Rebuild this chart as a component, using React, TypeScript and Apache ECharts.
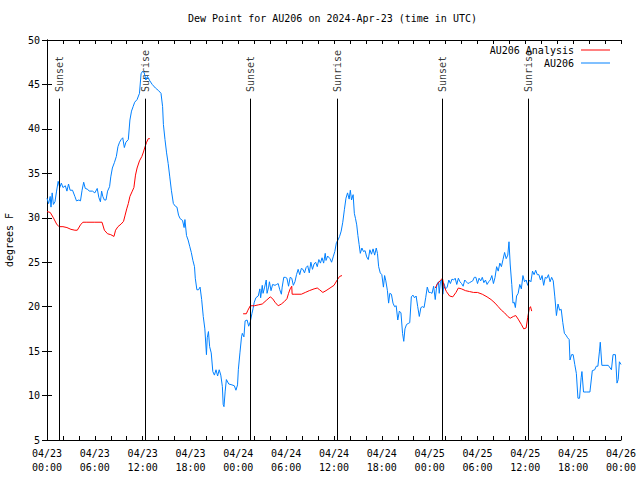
import React, { useEffect, useRef } from "react";
import * as echarts from "echarts";

// Hours since 2024-04-23 00:00 UTC
const xTickLabels = [
  "04/23\n00:00", "04/23\n06:00", "04/23\n12:00", "04/23\n18:00",
  "04/24\n00:00", "04/24\n06:00", "04/24\n12:00", "04/24\n18:00",
  "04/25\n00:00", "04/25\n06:00", "04/25\n12:00", "04/25\n18:00",
  "04/26\n00:00",
];

const sunEventHours = [1.55, 12.38, 25.5, 36.4, 49.6, 60.4];
const sunEventLabels = ["Sunset", "Sunrise", "Sunset", "Sunrise", "Sunset", "Sunrise"];

const au206: [number, number][] = [
  [0.0,32.2],[0.2,31.6],[0.4,32.4],[0.5,31.2],[0.65,32.8],[0.8,31.5],[1.0,31.8],[1.2,33.0],[1.4,34.1],[1.6,33.4],
  [1.8,33.9],[2.0,33.4],[2.3,33.6],[2.5,33.0],[2.7,33.8],[2.9,33.1],[3.2,33.1],[3.5,32.4],[3.7,31.9],[4.0,32.0],
  [4.2,31.9],[4.4,33.1],[4.6,34.0],[4.8,33.3],[5.1,33.2],[5.3,33.0],[5.7,33.0],[6.0,32.8],[6.3,33.3],[6.5,32.3],
  [6.7,31.8],[6.85,33.0],[7.0,32.4],[7.2,32.0],[7.4,32.0],[7.6,33.0],[7.85,33.5],[8.0,34.6],[8.2,35.6],[8.45,36.2],
  [8.7,36.9],[8.9,38.0],[9.1,38.5],[9.3,38.8],[9.5,39.0],[9.7,37.9],[9.9,38.5],[10.2,38.8],[10.4,41.0],[10.6,42.0],
  [10.8,42.5],[11.0,43.0],[11.3,43.3],[11.6,44.0],[11.8,46.2],[12.0,46.5],[12.2,46.3],[12.4,45.5],[12.6,45.9],[12.9,45.4],
  [13.2,45.0],[13.6,44.6],[14.0,44.3],[14.3,44.0],[14.5,42.5],[14.6,40.5],[14.8,38.8],[15.0,37.3],[15.2,36.1],[15.4,34.6],
  [15.6,33.1],[15.85,31.6],[16.1,31.3],[16.3,31.2],[16.5,30.3],[16.7,29.9],[17.0,29.7],[17.2,28.9],[17.3,29.8],[17.5,28.0],
  [17.7,27.5],[17.9,26.8],[18.1,26.1],[18.3,25.2],[18.5,24.5],[18.6,23.2],[18.8,21.9],[19.0,21.9],[19.2,22.2],[19.4,20.8],
  [19.6,18.9],[19.8,17.5],[20.0,14.6],[20.1,16.5],[20.25,17.2],[20.4,15.5],[20.6,14.8],[20.8,12.7],[21.0,12.3],[21.2,12.9],
  [21.4,12.2],[21.6,12.9],[21.8,12.3],[22.0,11.0],[22.1,9.0],[22.2,8.75],[22.35,10.5],[22.5,11.8],[22.8,11.3],[23.2,11.2],
  [23.5,11.1],[23.7,10.6],[23.9,11.2],[24.0,12.9],[24.2,14.8],[24.4,16.6],[24.5,17.0],[24.7,16.6],[24.85,18.4],[25.1,18.5],
  [25.3,17.8],[25.5,18.3],[25.7,19.2],[25.85,19.8],[26.0,20.5],[26.2,21.0],[26.5,21.2],[26.7,22.0],[26.8,21.0],[27.0,22.4],
  [27.1,21.5],[27.3,22.2],[27.5,23.0],[27.6,21.5],[27.8,22.2],[27.9,22.8],[28.1,21.8],[28.3,22.5],[28.6,22.4],[28.8,22.5],
  [29.0,22.6],[29.2,21.9],[29.4,21.4],[29.5,22.2],[29.7,23.3],[29.9,23.3],[30.1,23.2],[30.3,22.3],[30.5,23.3],[30.7,23.2],
  [30.9,22.4],[31.1,22.8],[31.3,23.6],[31.5,24.2],[31.7,23.6],[31.9,24.3],[32.1,24.2],[32.3,23.8],[32.5,24.4],[32.7,24.6],
  [32.9,23.8],[33.1,25.0],[33.3,24.2],[33.5,24.8],[33.7,25.0],[33.9,24.5],[34.1,25.3],[34.3,24.9],[34.5,25.5],[34.7,24.9],
  [34.9,26.0],[35.0,25.2],[35.2,25.7],[35.5,25.4],[35.7,25.0],[35.9,25.6],[36.1,26.2],[36.3,27.2],[36.5,27.5],[36.7,27.9],
  [36.9,28.5],[37.1,29.5],[37.3,30.9],[37.5,32.2],[37.7,32.8],[37.9,32.1],[38.05,33.1],[38.2,32.0],[38.4,32.6],[38.55,30.5],
  [38.7,29.9],[38.85,29.2],[39.0,28.0],[39.15,27.0],[39.3,26.0],[39.5,26.6],[39.7,26.2],[39.9,26.3],[40.1,25.6],[40.3,25.3],
  [40.5,26.4],[40.7,25.9],[40.9,26.5],[41.1,25.8],[41.3,26.6],[41.45,26.0],[41.6,24.5],[41.8,23.8],[42.0,23.6],[42.2,22.2],
  [42.35,23.5],[42.5,22.9],[42.7,21.8],[42.85,20.4],[43.0,21.5],[43.2,21.4],[43.4,20.4],[43.6,20.0],[43.8,20.1],[44.0,18.5],
  [44.2,19.5],[44.4,19.3],[44.6,17.0],[44.75,16.1],[44.9,17.5],[45.1,18.0],[45.3,18.1],[45.5,18.2],[45.7,21.1],[45.9,21.3],
  [46.1,21.0],[46.3,21.2],[46.5,20.0],[46.7,18.9],[46.9,19.9],[47.1,20.0],[47.3,19.9],[47.5,21.0],[47.7,22.2],[47.9,21.6],
  [48.1,21.6],[48.3,21.5],[48.5,22.3],[48.7,20.8],[48.9,22.5],[49.1,22.8],[49.2,21.5],[49.35,22.8],[49.5,23.0],[49.65,21.4],
  [49.8,22.6],[50.0,22.0],[50.2,22.2],[50.4,23.0],[50.6,22.6],[50.8,23.1],[51.0,23.0],[51.2,23.2],[51.4,22.5],[51.6,23.2],
  [51.8,22.8],[52.0,22.6],[52.2,22.3],[52.4,23.0],[52.6,22.8],[52.8,22.6],[53.0,22.7],[53.2,22.8],[53.4,22.9],[53.6,23.3],
  [53.8,23.3],[54.0,22.6],[54.2,23.2],[54.4,22.9],[54.6,23.3],[54.8,22.7],[55.0,23.0],[55.2,22.5],[55.4,22.8],[55.6,23.0],
  [55.8,23.5],[56.0,22.6],[56.2,23.3],[56.4,24.5],[56.6,24.0],[56.8,24.9],[57.0,24.5],[57.2,25.3],[57.4,26.1],[57.6,25.4],
  [57.8,25.8],[57.95,27.3],[58.1,24.8],[58.3,22.5],[58.45,20.4],[58.6,20.5],[58.75,19.9],[58.9,21.2],[59.1,21.5],[59.3,22.5],
  [59.5,22.0],[59.7,23.5],[59.9,22.8],[60.1,23.0],[60.3,22.4],[60.5,23.0],[60.7,22.8],[60.9,24.0],[61.1,23.6],[61.3,24.1],
  [61.5,23.6],[61.7,23.6],[61.9,23.0],[62.1,23.5],[62.3,22.4],[62.5,23.3],[62.7,23.2],[62.9,23.6],[63.1,22.8],[63.3,23.3],
  [63.5,22.9],[63.7,21.1],[63.9,19.0],[64.1,20.3],[64.3,19.6],[64.5,19.7],[64.7,18.2],[64.9,17.0],[65.1,16.8],[65.3,16.5],
  [65.5,16.3],[65.6,14.0],[65.8,14.6],[66.0,14.6],[66.2,13.5],[66.4,12.5],[66.6,9.7],[66.8,9.7],[67.0,12.0],[67.1,12.7],
  [67.3,10.4],[67.7,10.4],[68.1,10.4],[68.4,12.8],[68.7,12.9],[68.9,13.3],[69.1,13.3],[69.3,15.0],[69.4,16.0],[69.6,13.4],
  [70.0,13.4],[70.4,13.4],[70.8,12.9],[71.0,14.6],[71.3,14.6],[71.5,11.4],[71.65,11.8],[71.8,13.8],[72.0,13.5],
];

const analysis1: [number, number][] = [
  [0,30.7],[0.4,30.6],[0.8,30.0],[1.2,29.3],[1.5,29.0],[2.0,29.0],[2.5,28.9],[3.0,28.7],[3.5,28.6],[3.8,28.6],
  [4.2,29.2],[4.5,29.5],[5.0,29.5],[6.0,29.5],[6.9,29.5],[7.2,28.6],[7.6,28.2],[8.0,28.1],[8.4,27.9],[8.6,28.6],
  [8.9,29.0],[9.3,29.3],[9.6,29.6],[9.8,30.3],[10.0,31.0],[10.2,31.6],[10.4,32.4],[10.7,33.0],[10.9,33.4],[11.1,34.8],
  [11.3,35.6],[11.6,36.4],[11.9,36.9],[12.1,37.4],[12.3,38.0],[12.5,38.5],[12.7,38.9],[12.9,38.9],
];
const analysis2: [number, number][] = [
  [24.6,19.2],[25.0,19.2],[25.2,19.6],[25.5,20.1],[26.0,20.1],[26.5,20.2],[27.0,20.3],[27.5,20.7],[28.0,21.1],[28.3,20.9],
  [28.6,20.5],[29.0,20.1],[29.4,20.3],[29.8,20.6],[30.1,20.9],[30.3,21.5],[30.5,22.0],[30.7,22.3],[30.75,21.4],[31.0,21.4],
  [31.9,21.4],[32.4,21.6],[32.9,21.8],[33.5,22.0],[33.9,22.1],[34.2,21.9],[34.6,21.6],[35.0,21.8],[35.5,22.1],[36.0,22.4],
  [36.4,23.0],[36.7,23.4],[37.0,23.5],
];
const analysis3: [number, number][] = [
  [48.7,22.1],[49.0,22.6],[49.4,23.0],[49.6,23.2],[49.8,22.3],[50.1,21.7],[50.5,21.2],[50.9,21.1],[51.3,21.6],[51.6,22.1],
  [52.0,22.0],[52.5,21.8],[53.0,21.7],[53.5,21.6],[54.0,21.6],[54.6,21.4],[55.2,21.1],[55.7,20.8],[56.2,20.4],[56.6,20.0],
  [57.0,19.6],[57.4,19.3],[57.8,18.9],[58.1,18.7],[58.5,18.9],[58.8,19.0],[59.1,18.6],[59.5,18.0],[59.8,17.5],[60.1,17.6],
  [60.3,18.8],[60.5,19.8],[60.65,20.0],[60.8,19.5],
];

const FONT = "DejaVu Sans Mono";
const BLUE = "#0080ff";
const RED = "#ff0000";

export default function App() {
  const ref = useRef<HTMLDivElement>(null);
  useEffect(() => {
    if (!ref.current) return;
    const chart = echarts.init(ref.current, null, { renderer: "svg" });
    const analysisData: any[] = [...analysis1, "-", ...analysis2, "-", ...analysis3];
    const axisLineStyle = { lineStyle: { color: "#000", width: 1 } };
    chart.setOption({
      animation: false,
      backgroundColor: "#fff",
      textStyle: { fontFamily: FONT },
      title: {
        text: "Dew Point for AU206 on 2024-Apr-23 (time in UTC)",
        left: 188,
        top: 13,
        padding: 0,
        textStyle: { fontFamily: FONT, fontSize: 10, fontWeight: "normal", color: "#000" },
      },
      legend: {
        orient: "vertical",
        right: 30,
        top: 44,
        padding: 0,
        align: "right",
        itemWidth: 29,
        itemHeight: 1,
        itemGap: 1,
        icon: "rect",
        data: ["AU206 Analysis", "AU206"],
        textStyle: { fontFamily: FONT, fontSize: 10, color: "#000", padding: [0, 2, 0, 0], lineHeight: 12 },
      },
      grid: { left: 47, right: 19, top: 40, bottom: 40, containLabel: false, outerBoundsMode: "none" },
      xAxis: [
        {
          type: "value",
          min: 0,
          max: 72,
          interval: 6,
          position: "bottom",
          axisLine: axisLineStyle,
          axisTick: { inside: true, length: 4, lineStyle: { color: "#000" } },
          minorTick: { show: true, splitNumber: 3, length: 4, lineStyle: { color: "#000" } },
          splitLine: { show: false },
          axisLabel: {
            fontFamily: FONT,
            fontSize: 10,
            color: "#000",
            lineHeight: 14,
            margin: 6,
            hideOverlap: false,
            formatter: (v: number) => xTickLabels[Math.round(v / 6)] ?? "",
          },
        },
        {
          type: "value",
          min: 0,
          max: 72,
          interval: 6,
          position: "top",
          axisLine: axisLineStyle,
          axisTick: { inside: true, length: 4, lineStyle: { color: "#000" } },
          minorTick: { show: true, splitNumber: 3, length: 4, lineStyle: { color: "#000" } },
          splitLine: { show: false },
          axisLabel: { show: false },
        },
      ],
      yAxis: [
        {
          type: "value",
          min: 5,
          max: 50,
          interval: 5,
          position: "left",
          name: "degrees F",
          nameLocation: "middle",
          nameGap: 33,
          nameTextStyle: { fontFamily: FONT, fontSize: 10, color: "#000" },
          axisLine: { show: true, ...axisLineStyle },
          axisTick: { show: true, inside: true, length: 5, lineStyle: { color: "#000" } },
          splitLine: { show: false },
          axisLabel: { fontFamily: FONT, fontSize: 10, color: "#000", margin: 7 },
        },
        {
          type: "value",
          min: 5,
          max: 50,
          interval: 5,
          position: "right",
          axisLine: { show: true, ...axisLineStyle },
          axisTick: { show: true, inside: true, length: 5, lineStyle: { color: "#000" } },
          splitLine: { show: false },
          axisLabel: { show: false },
        },
      ],
      series: [
        {
          name: "sun",
          type: "scatter",
          symbolSize: 0,
          silent: true,
          data: sunEventHours.map((h, i) => ({ value: [h, 44.15], name: sunEventLabels[i] })),
          label: {
            show: true,
            position: "inside",
            align: "left",
            verticalAlign: "middle",
            rotate: 90,
            formatter: (p: any) => p.name,
            fontFamily: FONT,
            fontSize: 10,
            color: "#000",
          },
          markLine: {
            silent: true,
            symbol: "none",
            label: { show: false },
            lineStyle: { color: "#000", width: 1, type: "solid" },
            data: sunEventHours.map((h) => [{ coord: [h, 43.4] }, { coord: [h, 5] }]),
          },
          z: 1,
        },
        {
          name: "AU206 Analysis",
          type: "line",
          data: analysisData,
          symbol: "none",
          connectNulls: false,
          lineStyle: { color: RED, width: 1 },
          itemStyle: { color: RED },
          z: 3,
        },
        {
          name: "AU206",
          type: "line",
          data: au206,
          symbol: "none",
          lineStyle: { color: BLUE, width: 1 },
          itemStyle: { color: BLUE },
          z: 2,
        },
      ],
    });
    return () => chart.dispose();
  }, []);
  return (
    <div
      ref={ref}
      style={{ position: "fixed", left: 0, top: 0, width: 640, height: 480, background: "#fff" }}
    />
  );
}
